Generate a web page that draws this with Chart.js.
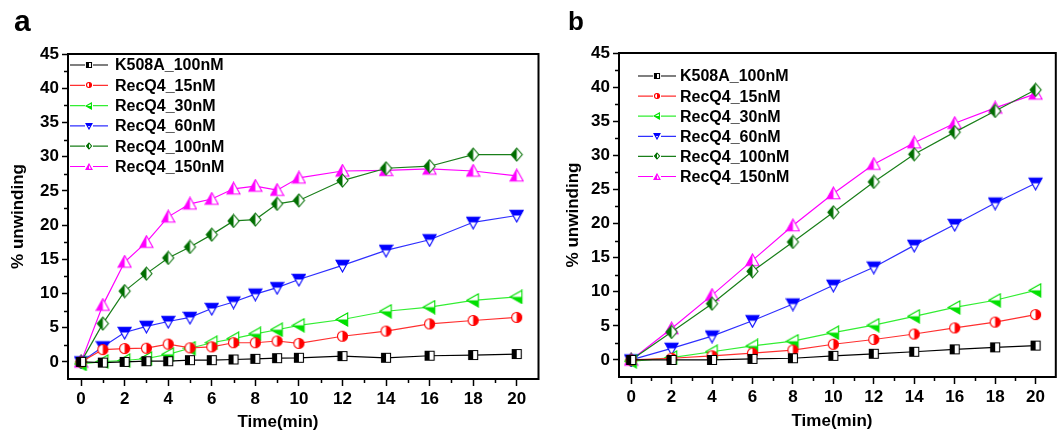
<!DOCTYPE html>
<html>
<head>
<meta charset="utf-8">
<script src="https://cdn.jsdelivr.net/npm/chart.js@4.4.1/dist/chart.umd.min.js"></script>
<style>
  body { margin: 0; background: #fff; }
  #wrap { position: relative; width: 1063px; height: 431px; background: #fff; overflow: hidden; }
  .box { position: absolute; top: 0; height: 431px; }
  .txt { position: absolute; font-family: 'Liberation Sans', Arial, sans-serif; font-weight: bold; color: #000; line-height: 1; white-space: nowrap; }
</style>
</head>
<body>
<div id="wrap">
  <div class="box" style="left:0;width:560px"><canvas id="chartA" width="560" height="431"></canvas></div>
  <div class="box" style="left:560px;width:503px"><canvas id="chartB" width="503" height="431"></canvas></div>
  <div class="txt" style="left:14px;top:6px;font-size:30px">a</div>
  <div class="txt" style="left:568px;top:8px;font-size:26px">b</div>
  <div class="txt" style="left:218px;top:413px;width:120px;text-align:center;font-size:17px">Time(min)</div>
  <div class="txt" style="left:772px;top:412px;width:120px;text-align:center;font-size:17px">Time(min)</div>
</div>
<script>
// ---- data ----
const seriesNames = ['K508A_100nM', 'RecQ4_15nM', 'RecQ4_30nM', 'RecQ4_60nM', 'RecQ4_100nM', 'RecQ4_150nM'];

// panel a
const timesA = [0, 1, 2, 3, 4, 5, 6, 7, 8, 9, 10, 12, 14, 16, 18, 20];
const k508aA = [0, -0.1, 0, 0.1, 0.1, 0.25, 0.25, 0.35, 0.45, 0.55, 0.6, 0.85, 0.6, 0.9, 1.0, 1.15];
const recq15A = [0, 1.8, 1.95, 2.0, 2.6, 2.05, 2.2, 2.8, 2.8, 3.05, 2.7, 3.75, 4.5, 5.55, 6.05, 6.5];
const recq30A = [-0.3, 0.05, 0.2, 0.5, 1.1, 2.0, 2.8, 3.4, 4.1, 4.7, 5.35, 6.2, 7.4, 8.0, 9.0, 9.5];
const recq60A = [0, 2.2, 4.3, 5.2, 5.9, 6.5, 7.8, 8.75, 9.9, 10.85, 12.05, 14.1, 16.3, 17.85, 20.4, 21.4];
const recq100A = [0, 5.6, 10.35, 12.9, 15.2, 16.8, 18.6, 20.6, 20.8, 23.1, 23.6, 26.5, 28.3, 28.6, 30.3, 30.3];
const recq150A = [0, 8.3, 14.6, 17.5, 21.2, 23.1, 23.8, 25.3, 25.7, 25.1, 26.9, 27.9, 28.0, 28.2, 27.9, 27.2];

// panel b
const timesB = [0, 2, 4, 6, 8, 10, 12, 14, 16, 18, 20];
const k508aB = [0, 0, 0, 0.15, 0.25, 0.6, 0.9, 1.2, 1.55, 1.85, 2.1];
const recq15B = [0, 0.25, 0.6, 1.0, 1.45, 2.3, 3.0, 3.8, 4.7, 5.55, 6.65];
const recq30B = [-0.2, 0.35, 1.2, 2.05, 2.75, 4.0, 5.1, 6.4, 7.7, 8.75, 10.2];
const recq60B = [0, 1.7, 3.5, 5.75, 8.2, 10.95, 13.6, 16.8, 19.85, 23.0, 25.9];
const recq100B = [0, 4.1, 8.25, 13.0, 17.3, 21.65, 26.1, 30.15, 33.4, 36.5, 39.6];
const recq150B = [0, 4.6, 9.5, 14.6, 19.7, 24.4, 28.7, 31.85, 34.7, 36.95, 39.0];

// axis ticks
const xTickValues = [0, 2, 4, 6, 8, 10, 12, 14, 16, 18, 20];
const yTickValues = [0, 5, 10, 15, 20, 25, 30, 35, 40, 45];

// ---- styles ----
const FONT = "'Liberation Sans', Arial, sans-serif";
const styles = [
  { line: '#000000', mark: '#000000', kind: 'square', half: 'left', size: 12 },
  { line: '#ff3030', mark: '#ff0000', kind: 'circle', half: 'right', size: 13 },
  { line: '#33ee33', mark: '#00e000', kind: 'triLeft', half: 'bottom', size: 15 },
  { line: '#3030ff', mark: '#0000ff', kind: 'triDown', half: 'top', size: 15 },
  { line: '#1a7f1a', mark: '#006e00', kind: 'diamond', half: 'left', size: 15 },
  { line: '#ff00ff', mark: '#ff00ff', kind: 'triUp', half: 'left', size: 15 }
];

function shapePath(g, kind, s) {
  const c = s / 2, r = s / 2 - 1;
  g.beginPath();
  if (kind === 'square') {
    g.rect(c - r + 0.5, c - r + 0.5, 2 * r - 1, 2 * r - 1);
  } else if (kind === 'circle') {
    g.arc(c, c, r - 0.5, 0, Math.PI * 2);
  } else if (kind === 'triUp') {
    g.moveTo(c, c - r); g.lineTo(c + r, c + r * 0.8); g.lineTo(c - r, c + r * 0.8); g.closePath();
  } else if (kind === 'triDown') {
    g.moveTo(c, c + r); g.lineTo(c + r, c - r * 0.8); g.lineTo(c - r, c - r * 0.8); g.closePath();
  } else if (kind === 'triLeft') {
    g.moveTo(c - r, c); g.lineTo(c + r * 0.8, c - r); g.lineTo(c + r * 0.8, c + r); g.closePath();
  } else if (kind === 'diamond') {
    g.moveTo(c, c - r); g.lineTo(c + r * 0.85, c); g.lineTo(c, c + r); g.lineTo(c - r * 0.85, c); g.closePath();
  }
}

function makeMarker(st, s) {
  const cv = document.createElement('canvas');
  cv.width = s; cv.height = s;
  const g = cv.getContext('2d');
  shapePath(g, st.kind, s);
  g.fillStyle = '#ffffff';
  g.fill();
  g.save();
  shapePath(g, st.kind, s);
  g.clip();
  g.fillStyle = st.mark;
  const h = s / 2;
  if (st.half === 'left') g.fillRect(0, 0, h, s);
  else if (st.half === 'right') g.fillRect(h, 0, h, s);
  else if (st.half === 'top') g.fillRect(0, 0, s, h);
  else g.fillRect(0, h, s, h);
  g.restore();
  shapePath(g, st.kind, s);
  g.strokeStyle = st.mark;
  g.lineWidth = 1.1;
  g.stroke();
  return cv;
}

const bigMarkers = styles.map(st => makeMarker(st, st.size));
const smallMarkers = styles.map(st => makeMarker(st, 8));

function makeDatasets(times, lists) {
  return lists.map((vals, i) => ({
    label: seriesNames[i],
    data: times.map((t, j) => ({ x: t, y: vals[j] })),
    borderColor: styles[i].line,
    backgroundColor: styles[i].mark,
    borderWidth: 1.2,
    pointStyle: bigMarkers[i],
    pointRadius: 6,
    tension: 0
  }));
}

// legend drawn inside the plot area, Origin-style "-o-"
const insetLegend = {
  id: 'insetLegend',
  afterDraw(chart, args, opts) {
    const ctx = chart.ctx, area = chart.chartArea;
    ctx.save();
    ctx.font = 'bold 16px ' + FONT;
    ctx.textBaseline = 'middle';
    ctx.fillStyle = '#000';
    chart.data.datasets.forEach((ds, i) => {
      const x = area.left + opts.dx;
      const y = area.top + opts.dy + i * opts.spacing;
      ctx.strokeStyle = styles[i].line;
      ctx.lineWidth = 1.2;
      ctx.beginPath();
      ctx.moveTo(x, y); ctx.lineTo(x + 15, y);
      ctx.moveTo(x + 23, y); ctx.lineTo(x + 38, y);
      ctx.stroke();
      const m = smallMarkers[i];
      ctx.drawImage(m, Math.round(x + 19 - m.width / 2), Math.round(y - m.height / 2));
      ctx.fillText(ds.label, x + opts.textDx, y + 1);
    });
    ctx.restore();
  }
};

// frame box + minor ticks
const frameBox = {
  id: 'frameBox',
  afterDraw(chart) {
    const ctx = chart.ctx, a = chart.chartArea;
    const xs = chart.scales.x, ys = chart.scales.y;
    ctx.save();
    ctx.strokeStyle = '#000';
    ctx.lineWidth = 1.5;
    ctx.beginPath();
    for (let i = 0; i < xTickValues.length - 1; i++) {
      const px = Math.round(xs.getPixelForValue((xTickValues[i] + xTickValues[i + 1]) / 2)) + 0.5;
      ctx.moveTo(px, a.bottom); ctx.lineTo(px, a.bottom + 4);
    }
    for (let i = 0; i < yTickValues.length - 1; i++) {
      const py = Math.round(ys.getPixelForValue((yTickValues[i] + yTickValues[i + 1]) / 2)) + 0.5;
      ctx.moveTo(a.left, py); ctx.lineTo(a.left - 4, py);
    }
    ctx.stroke();
    ctx.lineWidth = 2;
    ctx.strokeRect(a.left, a.top, a.right - a.left, a.bottom - a.top);
    ctx.restore();
  }
};

function makeChart(id, times, lists, lay) {
  return new Chart(document.getElementById(id), {
    type: 'line',
    data: { datasets: makeDatasets(times, lists) },
    options: {
      responsive: false,
      animation: false,
      events: [],
      layout: { padding: { left: 0, top: lay.top, right: lay.right, bottom: 0 } },
      plugins: {
        legend: { display: false },
        tooltip: { enabled: false },
        insetLegend: lay.legend
      },
      scales: {
        x: {
          type: 'linear',
          min: -0.6,
          max: 21,
          afterBuildTicks: s => { s.ticks = xTickValues.map(v => ({ value: v })); },
          afterFit: s => { s.height = lay.xh; },
          ticks: { color: '#000', font: { family: FONT, size: 17, weight: 'bold' }, padding: 3, maxRotation: 0 },
          grid: { drawOnChartArea: false, drawTicks: true, tickLength: 7, tickWidth: 1.5, tickColor: '#000' },
          border: { display: true, color: '#000', width: 2 }
        },
        y: {
          type: 'linear',
          min: -2.5,
          max: 45,
          afterBuildTicks: s => { s.ticks = yTickValues.map(v => ({ value: v })); },
          afterFit: s => { s.width = lay.yw; },
          ticks: { color: '#000', font: { family: FONT, size: 17, weight: 'bold' }, padding: 3 },
          grid: { drawOnChartArea: false, drawTicks: true, tickLength: 6, tickWidth: 1.5, tickColor: '#000' },
          border: { display: true, color: '#000', width: 2 },
          title: {
            display: true,
            text: '% unwinding',
            color: '#000',
            font: { family: FONT, size: 17, weight: 'bold' },
            padding: { top: lay.titlePad, bottom: 0 }
          }
        }
      }
    },
    plugins: [insetLegend, frameBox]
  });
}

makeChart('chartA', timesA, [k508aA, recq15A, recq30A, recq60A, recq100A, recq150A],
  { top: 54, right: 21.5, xh: 52, yw: 68, titlePad: 8, legend: { dx: 2, dy: 11, spacing: 20.3, textDx: 45 } });
makeChart('chartB', timesB, [k508aB, recq15B, recq30B, recq60B, recq100B, recq150B],
  { top: 53, right: 2, xh: 54, yw: 59, titlePad: 3, legend: { dx: 19, dy: 23, spacing: 20.1, textDx: 42 } });
</script>
</body>
</html>
